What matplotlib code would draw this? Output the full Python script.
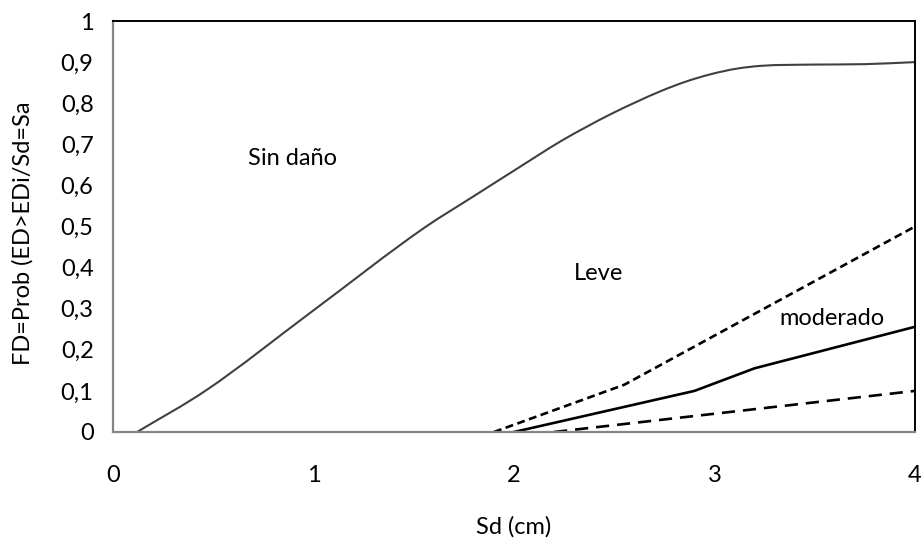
import matplotlib
matplotlib.use("Agg")
import matplotlib.pyplot as plt
from matplotlib.path import Path
from matplotlib.patches import PathPatch

plt.rcParams['font.family'] = ['Lato', 'DejaVu Sans']

# Fragility curves: probability of exceeding each damage state vs spectral displacement
sd_leve = [0.12, 0.46, 1.00, 1.55, 1.80, 2.00, 2.235, 2.36, 2.485, 2.61, 2.735,
           2.86, 2.985, 3.11, 3.235, 3.50, 3.75, 4.00]
p_leve = [0.0, 0.10, 0.296, 0.496, 0.574, 0.636, 0.708, 0.742, 0.774, 0.803, 0.830,
          0.853, 0.871, 0.884, 0.891, 0.894, 0.895, 0.900]

sd_moderado = [1.90, 2.55, 4.00]
p_moderado = [0.0, 0.115, 0.50]

sd_severo = [2.00, 2.90, 3.20, 4.00]
p_severo = [0.0, 0.10, 0.155, 0.256]

sd_completo = [2.20, 4.00]
p_completo = [0.0, 0.10]

x_ticks = [0, 1, 2, 3, 4]
y_ticks = [0, 0.1, 0.2, 0.3, 0.4, 0.5, 0.6, 0.7, 0.8, 0.9, 1.0]
y_tick_labels = ["0", "0,1", "0,2", "0,3", "0,4", "0,5", "0,6", "0,7", "0,8", "0,9", "1"]

region_labels = ["Sin daño", "Leve", "moderado"]
region_pos = [(0.895, 0.665), (2.42, 0.385), (3.585, 0.275)]


def smooth_path(xs, ys):
    """Cubic Hermite curve through the points, expressed as Bezier segments."""
    n = len(xs)
    sec = [(ys[i + 1] - ys[i]) / (xs[i + 1] - xs[i]) for i in range(n - 1)]
    m = [sec[0]] + [(sec[i - 1] + sec[i]) / 2 for i in range(1, n - 1)] + [sec[-1]]
    verts = [(xs[0], ys[0])]
    codes = [Path.MOVETO]
    for i in range(n - 1):
        h = xs[i + 1] - xs[i]
        verts += [(xs[i] + h / 3, ys[i] + m[i] * h / 3),
                  (xs[i + 1] - h / 3, ys[i + 1] - m[i + 1] * h / 3),
                  (xs[i + 1], ys[i + 1])]
        codes += [Path.CURVE4] * 3
    return Path(verts, codes)


fig = plt.figure(figsize=(9.23, 5.39), dpi=100)
ax = fig.add_axes([113 / 923, 1 - 432 / 539, 802 / 923, 411 / 539])

ax.add_patch(PathPatch(smooth_path(sd_leve, p_leve), facecolor="none",
                       edgecolor="#404040", lw=1.5))
ax.plot(sd_moderado, p_moderado, color="black", lw=1.9, linestyle=(0, (3.0, 1.7)))
ax.plot(sd_severo, p_severo, color="black", lw=1.9)
ax.plot(sd_completo, p_completo, color="black", lw=1.9, linestyle=(0, (5.0, 3.0)))

for txt, (xx, yy) in zip(region_labels, region_pos):
    ax.text(xx, yy, txt, ha="center", va="center", fontsize=17, color="black")

ax.set_xlim(0, 4)
ax.set_ylim(0, 1)
ax.set_xticks(x_ticks)
ax.set_xticklabels([str(v) for v in x_ticks])
ax.set_yticks(y_ticks)
ax.set_yticklabels(y_tick_labels)
ax.tick_params(axis="both", length=0, labelsize=17)
ax.tick_params(axis="x", pad=24)
ax.tick_params(axis="y", pad=14)

for side in ["top", "right"]:
    ax.spines[side].set_color("black")
    ax.spines[side].set_linewidth(1.4)
for side in ["left", "bottom"]:
    ax.spines[side].set_color("#868686")
    ax.spines[side].set_linewidth(1.6)

ax.set_xlabel("Sd (cm)", fontsize=17)
ax.xaxis.label.set_va("center")
ax.xaxis.set_label_coords(0.5, (432 - 527) / 411)
ax.set_ylabel("FD=Prob (ED>EDi/Sd=Sa", fontsize=17)
ax.yaxis.label.set_va("center")
ax.yaxis.set_label_coords((23 - 113) / 802, (432 - 233) / 411)

fig.savefig("out.png", dpi=100)
